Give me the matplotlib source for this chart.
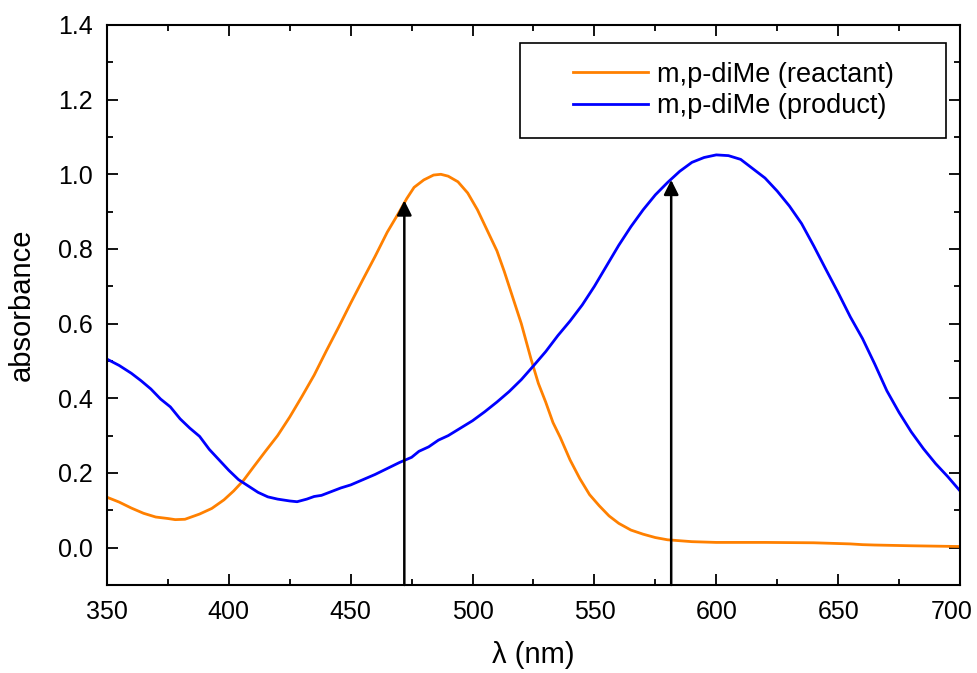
import matplotlib
matplotlib.use("Agg")
import matplotlib.pyplot as plt
from matplotlib.patches import Rectangle
from matplotlib.ticker import MultipleLocator, FixedLocator, FixedFormatter, FormatStrFormatter

plt.rcParams['font.family'] = ['Liberation Sans', 'DejaVu Sans']

# reactant spectrum (orange)
wl_reactant = [350, 355, 360, 365, 370, 375, 378, 382, 388, 393, 398, 402, 406, 410,
               415, 420, 425, 430, 435, 440, 445, 450, 455, 460, 465, 470, 473, 476,
               480, 484, 487, 490, 494, 498, 502, 506, 510, 513, 517, 520, 524, 527,
               530, 533, 536, 540, 544, 548, 552, 556, 560, 565, 570, 575, 580, 590,
               600, 620, 640, 655, 660, 665, 680, 700]
abs_reactant = [0.135, 0.122, 0.106, 0.092, 0.082, 0.078, 0.075, 0.076, 0.090, 0.105,
                0.128, 0.152, 0.180, 0.215, 0.258, 0.300, 0.350, 0.405, 0.462, 0.527,
                0.590, 0.655, 0.718, 0.780, 0.845, 0.900, 0.935, 0.965, 0.985, 0.998,
                1.000, 0.995, 0.980, 0.950, 0.905, 0.850, 0.795, 0.740, 0.660, 0.600,
                0.505, 0.440, 0.390, 0.335, 0.295, 0.235, 0.185, 0.142, 0.112, 0.085,
                0.065, 0.047, 0.036, 0.027, 0.021, 0.016, 0.014, 0.014, 0.013, 0.010,
                0.008, 0.007, 0.005, 0.003]

# product spectrum (blue)
wl_product = [350, 355, 360, 364, 368, 372, 376, 380, 384, 388, 392, 396, 400, 404,
              408, 412, 416, 420, 425, 428, 432, 435, 438, 442, 446, 450, 455, 460,
              465, 470, 475, 478, 482, 486, 490, 495, 500, 505, 510, 515, 520, 525,
              530, 535, 540, 545, 550, 555, 560, 565, 570, 575, 580, 585, 590, 595,
              600, 605, 610, 615, 620, 625, 630, 635, 640, 645, 650, 655, 660, 665,
              670, 675, 680, 685, 690, 695, 700]
abs_product = [0.505, 0.488, 0.467, 0.447, 0.425, 0.398, 0.377, 0.345, 0.320, 0.298,
               0.263, 0.235, 0.207, 0.182, 0.165, 0.148, 0.136, 0.130, 0.125, 0.123,
               0.130, 0.137, 0.140, 0.150, 0.160, 0.168, 0.182, 0.196, 0.212, 0.228,
               0.242, 0.258, 0.270, 0.288, 0.300, 0.320, 0.340, 0.364, 0.390, 0.418,
               0.450, 0.487, 0.525, 0.568, 0.607, 0.650, 0.700, 0.755, 0.810, 0.860,
               0.905, 0.945, 0.978, 1.008, 1.032, 1.045, 1.052, 1.050, 1.040, 1.015,
               0.990, 0.955, 0.915, 0.868, 0.808, 0.745, 0.683, 0.618, 0.560, 0.492,
               0.420, 0.362, 0.310, 0.265, 0.225, 0.190, 0.152]

x_ticks = [350, 400, 450, 500, 550, 600, 650, 700]
x_ticklabels = ['350', '400', '450', '500', '550', '600', '650', '700']

# excitation arrows
arrow_x = [472, 581.5]
arrow_top = [0.93, 0.985]

fig = plt.figure(figsize=(9.77, 6.73), dpi=100)
ax = fig.add_axes([0.1095, 0.1308, 0.8731, 0.8321])

ax.plot(wl_reactant, abs_reactant, color='#FF8000', lw=2.0, label='m,p-diMe (reactant)')
ax.plot(wl_product, abs_product, color='#0000FF', lw=2.0, label='m,p-diMe (product)')

ax.set_xlim(350, 700)
ax.set_ylim(-0.1, 1.4)

for x, top in zip(arrow_x, arrow_top):
    ax.annotate('', xy=(x, top), xytext=(x, -0.1),
                arrowprops=dict(arrowstyle='-|>', color='black', lw=1.8,
                                mutation_scale=22, shrinkA=0, shrinkB=0))

# the last x label is nudged left of its tick in the reference, so it is drawn by hand
ax.xaxis.set_major_locator(FixedLocator(x_ticks))
ax.xaxis.set_major_formatter(FixedFormatter(x_ticklabels[:-1] + ['']))
ax.xaxis.set_minor_locator(MultipleLocator(25))
ax.yaxis.set_major_locator(MultipleLocator(0.2))
ax.yaxis.set_minor_locator(MultipleLocator(0.1))
ax.yaxis.set_major_formatter(FormatStrFormatter('%.1f'))

ax.tick_params(which='both', direction='in', top=True, right=True, width=1.3)
ax.tick_params(which='major', length=8, labelsize=18)
ax.tick_params(which='minor', length=4)
ax.tick_params(axis='x', which='major', pad=11)
ax.tick_params(axis='y', which='major', pad=10)
for sp in ax.spines.values():
    sp.set_linewidth(1.5)

ax.annotate(x_ticklabels[-1], xy=(x_ticks[-1], 0), xycoords=('data', 'axes fraction'),
            xytext=(-6, -11), textcoords='offset points', ha='center', va='top',
            fontsize=18)

ax.set_xlabel('λ (nm)', fontsize=21, labelpad=12)
ax.set_ylabel('absorbance', fontsize=21, labelpad=16)

# legend frame drawn separately to match the reference box
ax.add_patch(Rectangle((0.4842, 0.7982), 0.4994, 0.1697, transform=ax.transAxes,
                       facecolor='white', edgecolor='black', lw=1.2, zorder=4))
leg = ax.legend(loc='center', bbox_to_anchor=(0.7339, 0.883), frameon=False,
                fontsize=19.5, handlelength=2.8, handletextpad=0.3,
                labelspacing=0.2)
leg.set_zorder(5)

fig.savefig('out.png', dpi=100)
